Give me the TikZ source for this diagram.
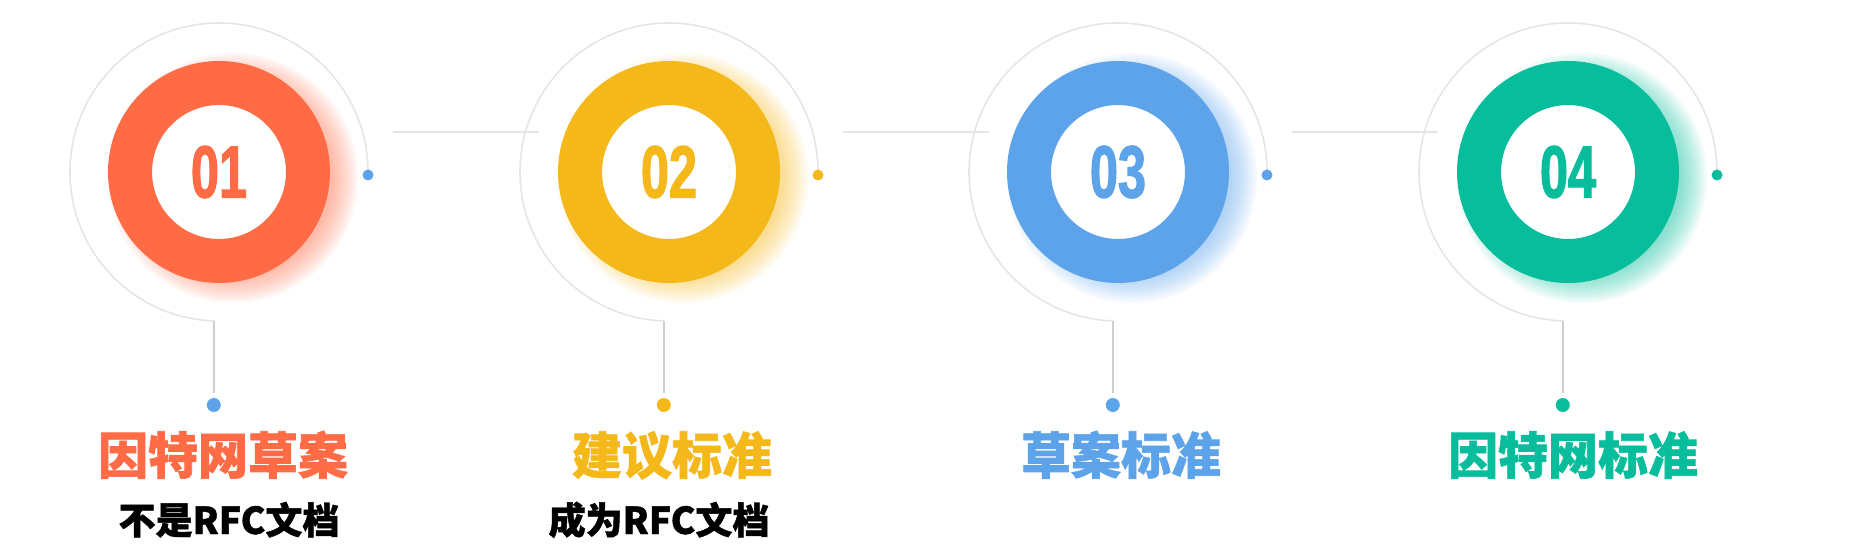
\documentclass[tikz,border=0pt]{standalone}
\usepackage{fontspec}
\usepackage{xcolor}
\usepackage{tikz}
\usetikzlibrary{positioning, calc}
\newfontfamily\cjk[BoldFeatures={FakeBold=1.2}]{Noto Sans CJK SC}
\newfontfamily\numfont[FakeStretch=0.68, BoldFont={Liberation Sans Bold}, BoldFeatures={FakeStretch=0.68, FakeBold=1.5}]{Liberation Sans}
\definecolor{rfcorange}{HTML}{FF6B45}
\definecolor{rfcyellow}{HTML}{F4B81A}
\definecolor{rfcblue}{HTML}{5CA3EA}
\definecolor{rfcgreen}{HTML}{07BD9B}
\definecolor{rfcgray}{HTML}{E5E5E5}
\tikzset{
	ring/.style={circle, draw=#1, fill=white, line width=22pt, minimum size=89pt, inner sep=0pt,
		text=#1, font=\numfont\bfseries\fontsize{37}{37}\selectfont},
	arcline/.style={draw=rfcgray, line width=0.8pt},
	stemline/.style={draw=rfcgray!90!black, line width=0.7pt},
	hline/.style={draw=rfcgray, line width=1.3pt},
	dotsmall/.style={circle, fill=#1, inner sep=0pt, minimum size=5.5pt},
	dotbig/.style={circle, fill=#1, inner sep=0pt, minimum size=7pt},
	title/.style={text=#1, inner sep=0pt, anchor=base, font=\cjk\bfseries\fontsize{25}{25}\selectfont},
	subtitle/.style={text=black, inner sep=0pt, anchor=base, font=\cjk\bfseries\fontsize{18.5}{18.5}\selectfont}
}

\begin{document}
\begin{tikzpicture}[x=0.5pt, y=0.5pt]
	\useasboundingbox (0,0) rectangle (1857,552);
	\foreach \n/\cx/\col/\dcol in {1/219/rfcorange/rfcblue, 2/669/rfcyellow/rfcyellow,
		3/1118/rfcblue/rfcblue, 4/1568/rfcgreen/rfcgreen} {
		% soft glow to the lower right
		\foreach \k in {0,...,10}
			\fill[\col, opacity=0.055] ({\cx+14},374) circle ({100+2.5*\k});
		\node[ring=\col] (ring\n) at (\cx,380) {0\n};
		\draw[arcline] ({\cx+149},380) arc[start angle=0, end angle=268, radius=149] coordinate (arcend\n);
		\node[dotsmall=\dcol] (rdot\n) at ({\cx+149},377) {};
		\node[dotbig=\dcol] (bdot\n) at (arcend\n |- 0,147) {};
		\draw[stemline, shorten >=2.5pt] (arcend\n) -- (bdot\n.north);
	}
	% connectors between the steps
	\foreach \n/\cx in {1/219, 2/669, 3/1118} {
		\coordinate (hstart\n) at ({\cx+174},420);
		\coordinate (hend\n) at ({\cx+320},420);
		\draw[hline] (hstart\n) -- (hend\n);
	}
	\node[title=rfcorange] (title1) at (223,78) {因特网草案};
	\node[title=rfcyellow] (title2) at (672,78) {建议标准};
	\node[title=rfcblue] (title3) at (1121,78) {草案标准};
	\node[title=rfcgreen] (title4) at (1573,78) {因特网标准};
	\node[subtitle] (sub1) at (229,18) {不是RFC文档};
	\node[subtitle] (sub2) at (659,18) {成为RFC文档};
\end{tikzpicture}
\end{document}
